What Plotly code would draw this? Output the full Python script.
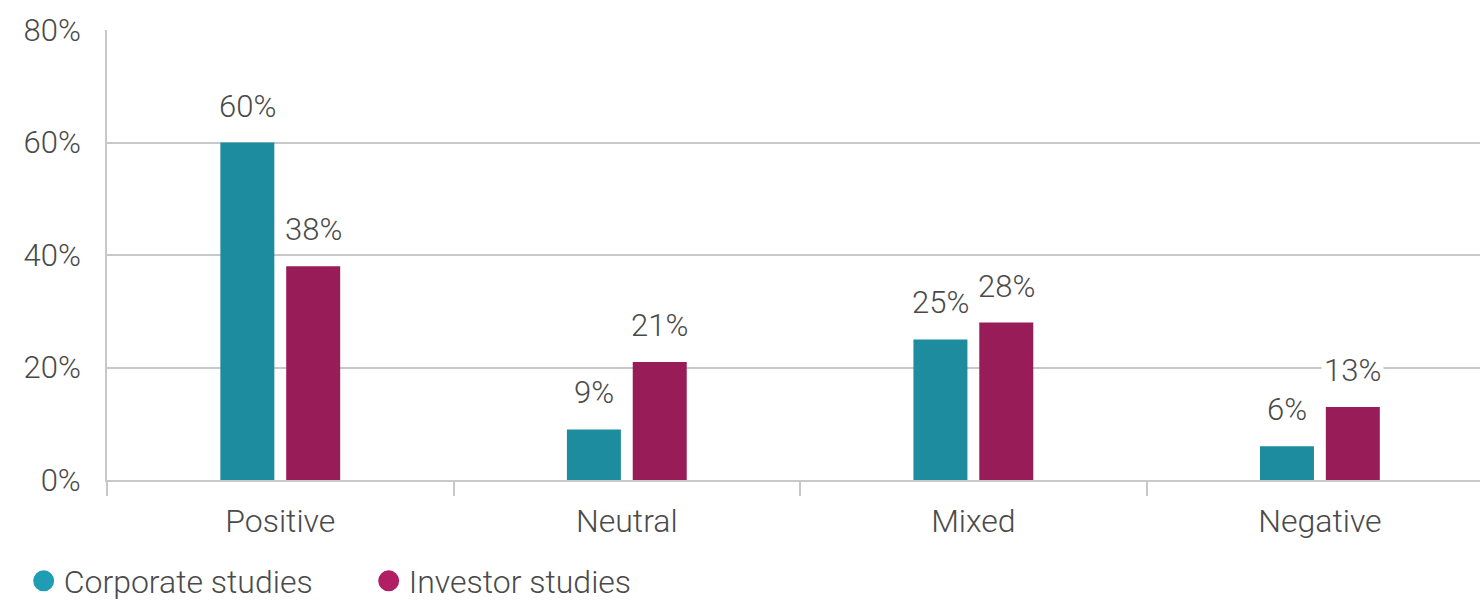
import plotly.graph_objects as go

categories = ["Positive", "Neutral", "Mixed", "Negative"]
corporate = [60, 9, 25, 6]
investor = [38, 21, 28, 13]
y_ticks = [0, 20, 40, 60, 80]
y_tick_labels = ["0%", "20%", "40%", "60%", "80%"]

TEAL = "#1d8c9f"
MAGENTA = "#981c58"
TEAL_LEG = "#1f9db3"
MAGENTA_LEG = "#b01e64"
TEXT = "#4a4a4a"
GRID = "#c8c8c8"
FONT = "Roboto, sans-serif"
FS = 31
FS_CAT = 32

BARGAP = 0.62
GROUPGAP = 0.18
CAT_PX = 346.5  # pixel width of one category
slot_px = CAT_PX * (1 - BARGAP) / 2

fig = go.Figure()
fig.add_trace(go.Bar(x=categories, y=corporate, name="Corporate studies",
                     marker=dict(color=TEAL, line=dict(width=0)), showlegend=False))
fig.add_trace(go.Bar(x=categories, y=investor, name="Investor studies",
                     marker=dict(color=MAGENTA, line=dict(width=0)), showlegend=False))
# legend entries with circular markers
fig.add_trace(go.Scatter(x=[None], y=[None], mode="markers", name="Corporate studies",
                         marker=dict(color=TEAL_LEG, size=16, symbol="circle",
                                     line=dict(color=TEAL_LEG, width=5))))
fig.add_trace(go.Scatter(x=[None], y=[None], mode="markers", name="Investor studies",
                         marker=dict(color=MAGENTA_LEG, size=16, symbol="circle",
                                     line=dict(color=MAGENTA_LEG, width=5))))

# value labels above bars
annotations = []
for series, sign in ((corporate, -1), (investor, 1)):
    for cat, v in zip(categories, series):
        annotations.append(dict(
            x=cat, y=v, xref="x", yref="y", text=f"{v}%", showarrow=False,
            xanchor="center", yanchor="bottom", xshift=sign * slot_px / 2, yshift=15,
            bgcolor="white", borderpad=2,
            font=dict(size=FS, color=TEXT, family=FONT, weight=300),
        ))

fig.update_layout(
    width=1480, height=604,
    margin=dict(l=107, r=0, t=30, b=124, autoexpand=False),
    paper_bgcolor="white", plot_bgcolor="white",
    font=dict(family=FONT, size=FS, color=TEXT, weight=300),
    barmode="group", bargap=BARGAP, bargroupgap=GROUPGAP,
    annotations=annotations,
    legend=dict(orientation="h", xref="container", yref="container",
                x=0.016, y=0.038, xanchor="left", yanchor="middle",
                font=dict(size=FS_CAT, color=TEXT, family=FONT, weight=300),
                itemsizing="trace", entrywidth=300, entrywidthmode="pixels",
                traceorder="normal"),
)
fig.update_xaxes(
    type="category", range=[-0.5, 3.462],
    showline=True, linecolor=GRID, linewidth=2,
    ticks="outside", tickson="boundaries", ticklen=14, tickcolor=GRID, tickwidth=2,
    showgrid=False, ticklabelstandoff=12,
    tickfont=dict(size=FS_CAT, color=TEXT, family=FONT, weight=300),
)
fig.update_yaxes(
    range=[0, 80], tickvals=y_ticks, ticktext=y_tick_labels,
    showgrid=True, gridcolor=GRID, gridwidth=2,
    showline=True, linecolor=GRID, linewidth=2,
    zeroline=False, ticks="", ticklabelstandoff=18,
    tickfont=dict(size=FS, color=TEXT, family=FONT, weight=300),
)

fig.write_html("out.html")
